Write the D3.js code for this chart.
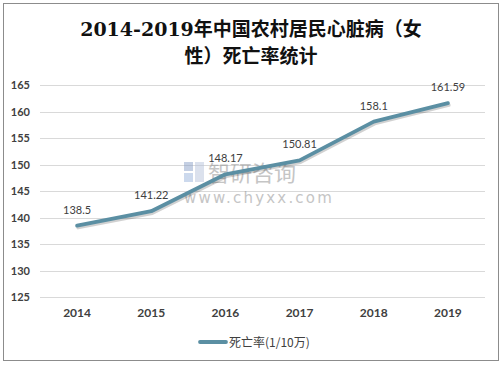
<!DOCTYPE html>
<html>
<head>
<meta charset="utf-8">
<script src="https://cdn.jsdelivr.net/npm/d3@7"></script>
<style>
  body { margin: 0; background: #fff; }
  svg { display: block; }
</style>
</head>
<body>
<script>
var years = ['2014', '2015', '2016', '2017', '2018', '2019'];
var rates = [138.5, 141.22, 148.17, 150.81, 158.1, 161.59];
var yTicks = [125, 130, 135, 140, 145, 150, 155, 160, 165];
var titleLines = ['2014-2019年中国农村居民心脏病（女', '性）死亡率统计'];
var seriesName = '死亡率(1/10万)';

var width = 503, height = 366;
var numFont = 'Lato, "Open Sans", sans-serif';

var svg = d3.select('body').append('svg').attr('width', width).attr('height', height);

// outer frame
svg.append('rect').attr('x', 3.5).attr('y', 3.5).attr('width', 495).attr('height', 357)
    .attr('fill', '#fff').attr('stroke', '#8c8c8c').attr('stroke-width', 1);

// title
svg.selectAll('text.title').data(titleLines).enter().append('text')
    .attr('class', 'title')
    .attr('x', 251)
    .attr('y', function (d, i) { return 36 + i * 27; })
    .attr('text-anchor', 'middle')
    .attr('font-family', '"DejaVu Serif", "Noto Sans CJK SC", serif')
    .attr('font-size', 19)
    .attr('font-weight', 'bold')
    .attr('fill', '#111')
    .text(function (d) { return d; });

var x = d3.scaleBand().domain(years).range([40, 485]);
var y = d3.scaleLinear().domain([125, 165]).range([297.3, 85]);

// gridlines
svg.append('g').selectAll('line').data(yTicks).enter().append('line')
    .attr('x1', 40).attr('x2', 485)
    .attr('y1', function (d) { return Math.round(y(d)) + 0.5; })
    .attr('y2', function (d) { return Math.round(y(d)) + 0.5; })
    .attr('stroke', '#d9d9d9').attr('stroke-width', 1);

// y axis labels
var yAxis = svg.append('g').attr('transform', 'translate(30,0)')
    .call(d3.axisLeft(y).tickValues(yTicks).tickSize(0).tickPadding(0));
yAxis.select('.domain').remove();
yAxis.selectAll('text')
    .attr('font-family', numFont).attr('font-size', 11).attr('font-weight', 'bold')
    .attr('fill', '#404040');

// x axis labels
var xAxis = svg.append('g').attr('transform', 'translate(0,308)')
    .call(d3.axisBottom(x).tickSize(0).tickPadding(0));
xAxis.select('.domain').remove();
xAxis.selectAll('text')
    .attr('font-family', numFont).attr('font-size', 12).attr('font-weight', 'bold')
    .attr('fill', '#404040');

// watermark
var wm = svg.append('g').attr('opacity', 0.5);
wm.append('rect').attr('x', 184).attr('y', 162).attr('width', 9).attr('height', 9).attr('fill', '#8aa0c8');
wm.append('rect').attr('x', 184).attr('y', 173).attr('width', 9).attr('height', 9).attr('fill', '#9bb4dc');
wm.append('rect').attr('x', 195).attr('y', 162).attr('width', 9).attr('height', 20).attr('fill', '#b8c4dc');
wm.append('text').attr('x', 208).attr('y', 181)
    .attr('font-family', '"Noto Sans CJK SC", sans-serif').attr('font-size', 22)
    .attr('fill', '#8c8c8c').text('智研咨询');
wm.append('text').attr('x', 184).attr('y', 203)
    .attr('font-family', '"DejaVu Sans", sans-serif').attr('font-size', 15)
    .attr('letter-spacing', 2.2)
    .attr('fill', '#8c8c8c').text('www.chyxx.com');

// line
var line = d3.line()
    .x(function (d, i) { return x(years[i]) + x.bandwidth() / 2; })
    .y(function (d) { return y(d); });

svg.append('path').datum(rates)
    .attr('d', line).attr('transform', 'translate(1,2)')
    .attr('fill', 'none').attr('stroke', '#000').attr('stroke-opacity', 0.18)
    .attr('stroke-width', 3.5).attr('stroke-linecap', 'round').attr('stroke-linejoin', 'round');

svg.append('path').datum(rates)
    .attr('d', line)
    .attr('fill', 'none').attr('stroke', '#5b8fa3')
    .attr('stroke-width', 3.8).attr('stroke-linecap', 'round').attr('stroke-linejoin', 'round');

// data labels
svg.append('g').selectAll('text').data(rates).enter().append('text')
    .attr('x', function (d, i) { return x(years[i]) + x.bandwidth() / 2; })
    .attr('y', function (d) { return y(d) - 12; })
    .attr('text-anchor', 'middle')
    .attr('font-family', numFont).attr('font-size', 11)
    .attr('fill', '#404040')
    .text(function (d) { return d; });

// legend
svg.append('line').attr('x1', 200).attr('x2', 226).attr('y1', 342).attr('y2', 342)
    .attr('stroke', '#5b8fa3').attr('stroke-width', 3.8).attr('stroke-linecap', 'round');
svg.append('text').attr('x', 229).attr('y', 346.5)
    .attr('font-family', '"Noto Sans CJK SC", sans-serif').attr('font-size', 12)
    .attr('fill', '#404040').text(seriesName);
</script>
</body>
</html>
